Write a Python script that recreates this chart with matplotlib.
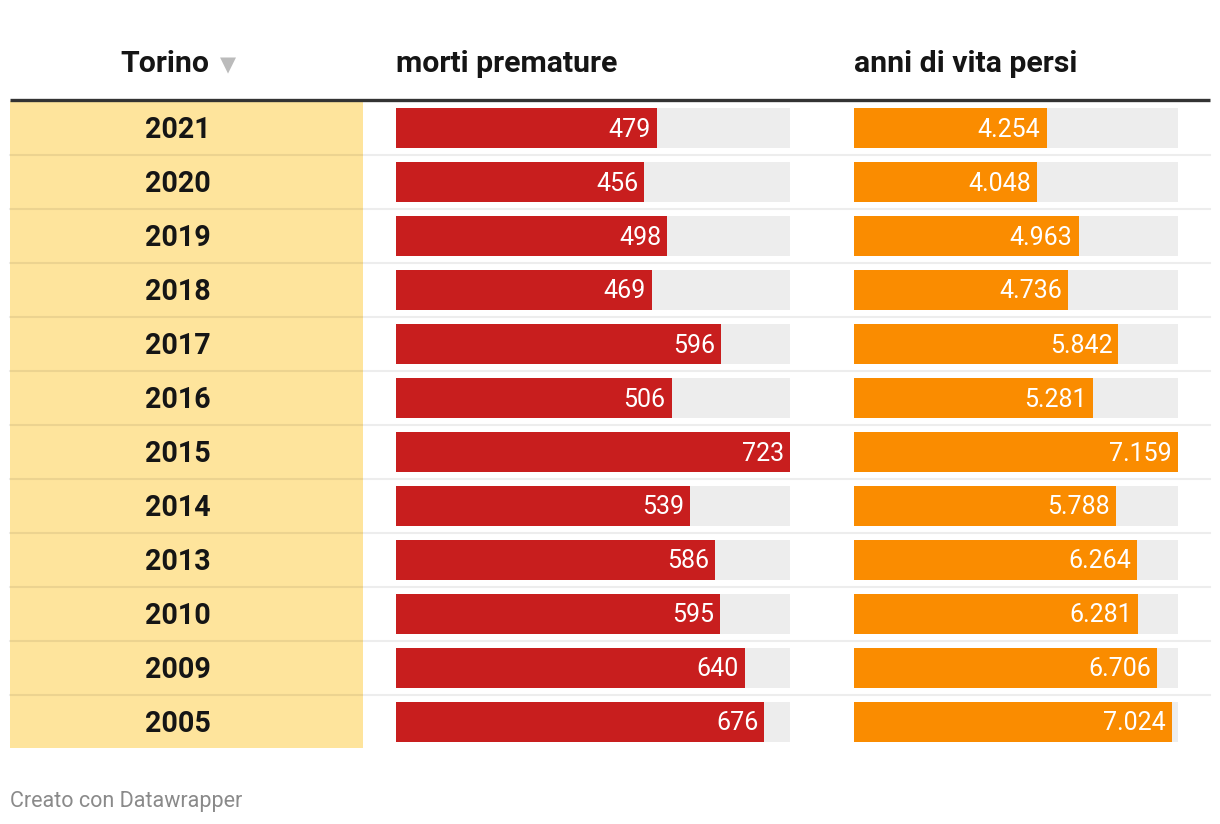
import matplotlib.pyplot as plt
from matplotlib.patches import Rectangle

anni = ["2021", "2020", "2019", "2018", "2017", "2016", "2015", "2014", "2013", "2010", "2009", "2005"]
morti = [479, 456, 498, 469, 596, 506, 723, 539, 586, 595, 640, 676]
vita_persi = [4254, 4048, 4963, 4736, 5842, 5281, 7159, 5788, 6264, 6281, 6706, 7024]

titolo_col = "Torino"
titolo_morti = "morti premature"
titolo_vita = "anni di vita persi"
fonte = "Creato con Datawrapper"

W, H = 1220, 824
ROW0, ROW_H, BAR_H = 128, 54, 40
rosso = "#c81e1e"
arancio = "#fa8c00"
grigio_bg = "#ededed"
giallo = "#fee49c"

plt.rcParams["font.family"] = ["Roboto", "DejaVu Sans"]


def fmt(v):
    return f"{v:,}".replace(",", ".")


fig = plt.figure(figsize=(W / 100, H / 100), dpi=100)
bg = fig.add_axes([0, 0, 1, 1])
bg.set_xlim(0, W)
bg.set_ylim(H, 0)
bg.axis("off")

righe = [ROW0 + ROW_H * i for i in range(len(anni))]

# colonna gialla con gli anni
bg.add_patch(Rectangle((10, 101), 353, righe[-1] + 26 - 101, color=giallo, lw=0, zorder=0))
for y, a in zip(righe, anni):
    bg.text(178, y + 1.5, a, ha="center", va="center", fontsize=20.6, fontweight="bold", color="#151515")
for y in righe[:-1]:
    bg.plot([10, 1210], [y + 27, y + 27], color=(0, 0, 0, 0.07), lw=1.5, zorder=1)

# intestazione
bg.plot([10, 1210], [100, 100], color="#333333", lw=2.4, solid_capstyle="butt")
bg.text(165, 64, titolo_col, ha="center", va="center", fontsize=21.8, fontweight="bold", color="#151515")
bg.text(228, 65, "\u25bc", ha="center", va="center", fontsize=15, color="#bbbbbb",
        family="DejaVu Sans")
bg.text(396, 64, titolo_morti, ha="left", va="center", fontsize=21.8, fontweight="bold", color="#151515")
bg.text(854, 64, titolo_vita, ha="left", va="center", fontsize=21.8, fontweight="bold", color="#151515")

bg.text(10, 801, fonte, ha="left", va="center", fontsize=15.5, color="#8a8a8a")


def colonna(x0, larg, valori, colore):
    ax = fig.add_axes([x0 / W, 0, larg / W, 1])
    ax.set_xlim(0, max(valori))
    ax.set_ylim(H, 0)
    ax.axis("off")
    ax.patch.set_alpha(0)
    ax.barh(righe, [max(valori)] * len(valori), height=BAR_H, color=grigio_bg, lw=0)
    ax.barh(righe, valori, height=BAR_H, color=colore, lw=0)
    pad = max(valori) * 6 / larg
    for y, v in zip(righe, valori):
        ax.text(v - pad, y + 1.5, fmt(v), ha="right", va="center", fontsize=18, color="white")


colonna(396, 394, morti, rosso)
colonna(854, 324, vita_persi, arancio)

fig.savefig("out.png", dpi=100)
